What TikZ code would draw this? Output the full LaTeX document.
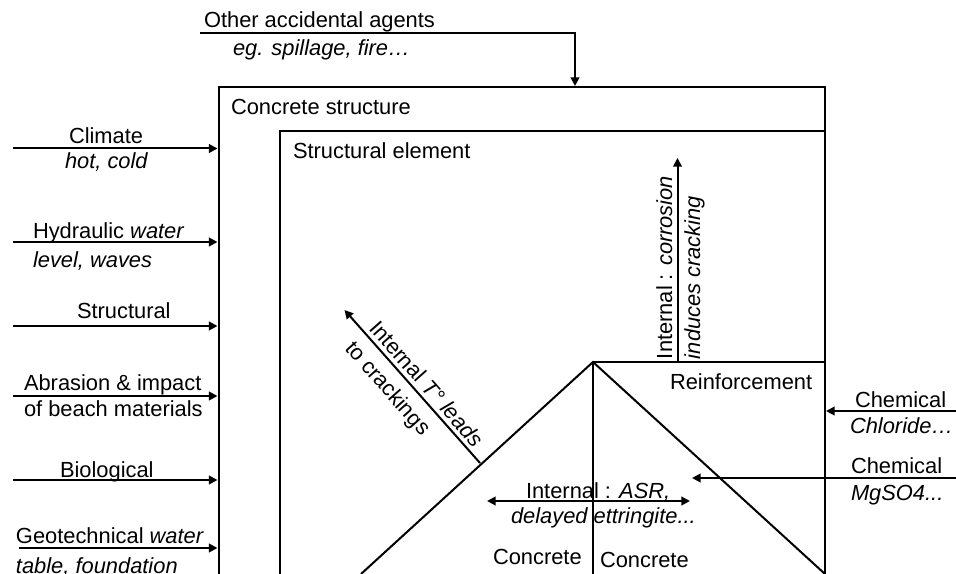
\documentclass[tikz,border=0pt]{standalone}
\usepackage{fontspec}
\setmainfont{Liberation Sans}
\usetikzlibrary{arrows.meta}
\tikzset{
  px/.style={x=0.75pt,y=-0.75pt},
  ln/.style={line width=1.5pt,line cap=butt,line join=miter},
  arr/.style={ln,-{Triangle[length=6.5pt,width=6.5pt]}},
  darr/.style={ln,{Triangle[length=6.5pt,width=6.5pt]}-{Triangle[length=6.5pt,width=6.5pt]}},
  lab/.style={anchor=base west,inner sep=0pt,outer sep=0pt,font=\fontsize{16.4pt}{18pt}\selectfont},
}
\begin{document}
\begin{tikzpicture}[px]
\useasboundingbox (0,0) rectangle (956,574);
\clip (0,0) rectangle (956,574);
% boxes
\coordinate (oBL) at (218.5,574); \coordinate (oTL) at (218.5,87); \coordinate (oTR) at (825,87); \coordinate (oBR) at (825,574);
\coordinate (iBL) at (280,574); \coordinate (iTL) at (280,131); \coordinate (iTR) at (825,131);
\draw[ln] (oBL) -- (oTL) -- (oTR) -- (oBR);
\draw[ln] (iBL) -- (iTL) -- (iTR);
% concrete element
\coordinate (apex) at (593,362); \coordinate (rTR) at (825,362);
\coordinate (triL) at (361,574); \coordinate (triR) at (825,574); \coordinate (triM) at (593,574);
\draw[ln] (triL) -- (apex) -- (triR);
\draw[ln] (apex) -- (triM);
\draw[ln] (apex) -- (rTR);
% top agent
\coordinate (a0) at (200,33.5); \coordinate (a1) at (575,33.5); \coordinate (a2) at (575,86);
\draw[arr] (a0) -- (a1) -- (a2);
% left agents
\foreach \n/\y/\x in {climate/148.5/13,hydro/242/13,struct/326/13,abras/396/13,bio/480/13,geo/548/19}{
  \coordinate (\n S) at (\x,\y); \coordinate (\n E) at (217.5,\y);
  \draw[arr] (\n S) -- (\n E);
}
% right agents
\coordinate (c1S) at (956,411); \coordinate (c1E) at (826,411);
\coordinate (c2S) at (956,478); \coordinate (c2E) at (692,478);
\draw[arr] (c1S) -- (c1E);
\draw[arr] (c2S) -- (c2E);
% internal
\coordinate (dA) at (487,501); \coordinate (dB) at (690,501);
\draw[darr] (dA) -- (dB);
\coordinate (vS) at (677.5,362); \coordinate (vE) at (677.5,158);
\draw[arr] (vS) -- (vE);
\coordinate (tS) at (480,463); \coordinate (tE) at (344.5,310);
\draw[arr] (tS) -- (tE);
% labels
\begin{scope}[shift={(0,0.5)}]
\node[lab] (t1) at (204,27) {Other accidental agents};
\node[lab] (t2) at (233,55) {\itshape eg. spillage, fire…};
\node[lab] (t3) at (231,114) {Concrete structure};
\node[lab] (t4) at (293,158) {Structural element};
\node[lab] (t5) at (69,143) {Climate};
\node[lab] (t6) at (65,168) {\itshape hot, cold};
\node[lab] (t7) at (33,238) {Hydraulic \itshape water};
\node[lab] (t8) at (33,267) {\itshape level, waves};
\node[lab] (t9) at (77,318) {Structural};
\node[lab] (t10) at (24,390) {Abrasion \& impact};
\node[lab] (t11) at (24,416) {of beach materials};
\node[lab] (t12) at (60,477) {Biological};
\node[lab] (t13) at (16,543) {Geotechnical \itshape water};
\node[lab] (t14) at (16,573) {\itshape table, foundation};
\node[lab] (t15) at (526,498) {Internal : \itshape ASR,};
\node[lab] (t16) at (511,523) {\itshape delayed ettringite...};
\node[lab] (t17) at (493,564) {Concrete};
\node[lab] (t18) at (600,567) {Concrete};
\node[lab] (t19) at (670,389) {Reinforcement};
\node[lab] (t20) at (855,407) {Chemical};
\node[lab] (t21) at (850,433) {\itshape Chloride…};
\node[lab] (t22) at (851,473) {Chemical};
\node[lab] (t23) at (851,500) {\itshape MgSO4...};
\end{scope}
\node[lab,rotate=90] (t24) at (672,359) {Internal : \itshape corrosion};
\node[lab,rotate=90] (t25) at (700,359) {\itshape induces cracking};
\node[lab,rotate=-48.5] (t26) at (368,329) {Internal \itshape T° leads};
\node[lab,rotate=-48.5] (t27) at (344,349) {to crackings};
\end{tikzpicture}
\end{document}
